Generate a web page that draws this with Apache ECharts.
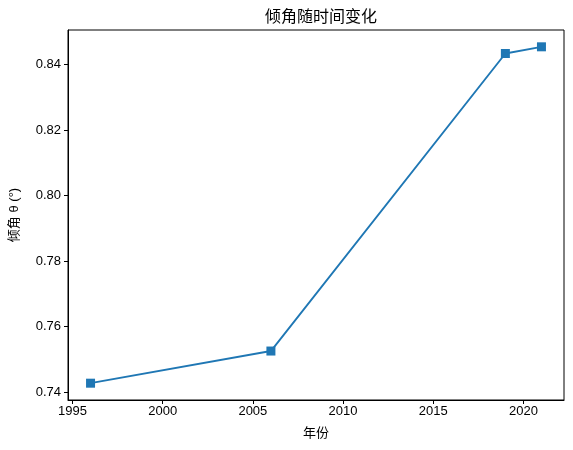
<!DOCTYPE html>
<html>
<head>
<meta charset="utf-8">
<script src="https://cdn.jsdelivr.net/npm/echarts@6/dist/echarts.min.js"></script>
<style>
  html, body { margin: 0; padding: 0; background: #fff; }
  #chart { width: 573px; height: 450px; }
</style>
</head>
<body>
<div id="chart"></div>
<script>
// 数据
const years = [1996, 2006, 2019, 2021];
const angles = [0.74274, 0.75255, 0.84334, 0.84538];
const xTicks = [1995, 2000, 2005, 2010, 2015, 2020];
const yTicks = [0.74, 0.76, 0.78, 0.80, 0.82, 0.84];

const font = "'Liberation Sans', Arial, 'Noto Sans CJK SC', sans-serif";

const chart = echarts.init(document.getElementById("chart"));
chart.setOption({
  animation: false,
  title: {
    text: "倾角随时间变化",
    left: 316,
    top: 5,
    textAlign: "center",
    textStyle: { fontFamily: font, fontSize: 16, fontWeight: "normal", color: "#000" },
  },
  grid: {
    left: 68, right: 9, top: 30, bottom: 50,
    outerBoundsMode: "none",
    containLabel: false,
    show: true, borderColor: "#000", borderWidth: 1,
  },
  xAxis: {
    type: "value",
    min: 1994.75,
    max: 2022.25,
    name: "年份",
    nameLocation: "middle",
    nameGap: 27,
    nameTextStyle: { fontFamily: font, fontSize: 13, color: "#000" },
    splitLine: { show: false },
    axisLine: { lineStyle: { color: "#000", width: 1 } },
    axisTick: { show: true, length: 4, customValues: xTicks, lineStyle: { color: "#000" } },
    axisLabel: {
      customValues: xTicks,
      fontFamily: font, fontSize: 13, color: "#000", margin: 5,
      formatter: (v) => String(v),
    },
  },
  yAxis: {
    type: "value",
    min: 0.73761,
    max: 0.85051,
    name: "倾角 θ (°)",
    nameLocation: "middle",
    nameGap: 47,
    nameRotate: 90,
    nameTextStyle: { fontFamily: font, fontSize: 13, color: "#000" },
    splitLine: { show: false },
    axisLine: { show: true, lineStyle: { color: "#000", width: 1 } },
    axisTick: { show: true, length: 4, customValues: yTicks, lineStyle: { color: "#000" } },
    axisLabel: {
      customValues: yTicks,
      fontFamily: font, fontSize: 13, color: "#000", margin: 7,
      formatter: (v) => v.toFixed(2),
    },
  },
  series: [
    {
      type: "line",
      data: years.map((y, i) => [y, angles[i]]),
      symbol: "rect",
      symbolSize: 9,
      showSymbol: true,
      lineStyle: { color: "#1f77b4", width: 1.9 },
      itemStyle: { color: "#1f77b4" },
    },
  ],
});
</script>
</body>
</html>
